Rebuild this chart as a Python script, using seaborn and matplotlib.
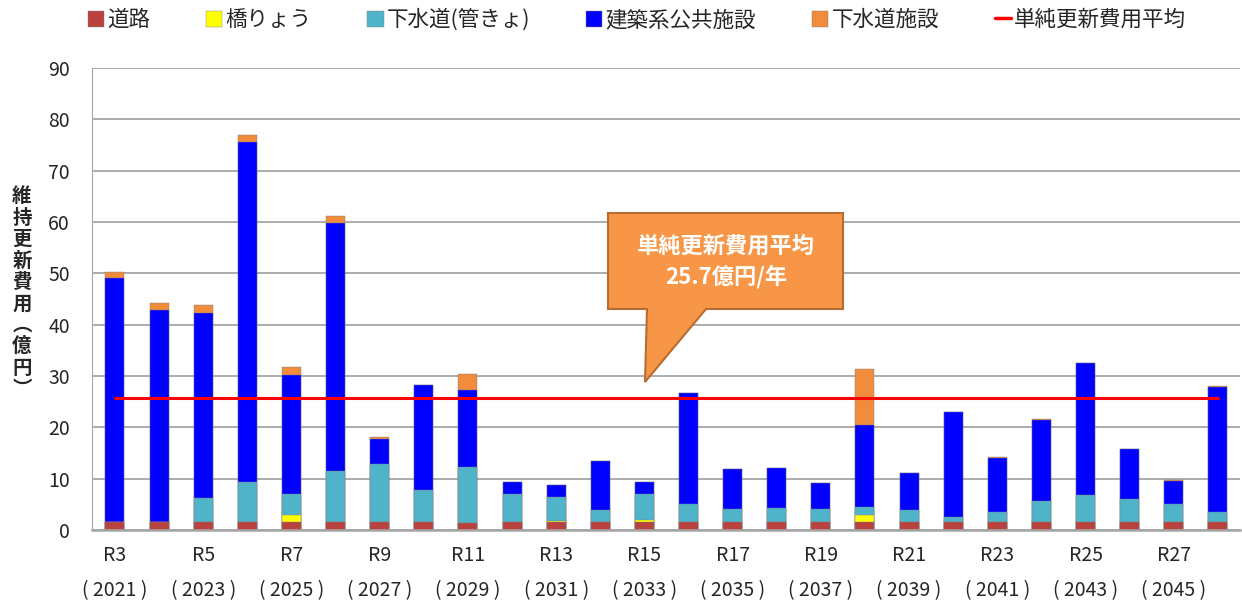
import numpy as np
import pandas as pd
import seaborn as sns
import matplotlib.pyplot as plt
from matplotlib.patches import Patch, Polygon
from matplotlib.lines import Line2D

# categories (fiscal years)
periods = ['R3', 'R4', 'R5', 'R6', 'R7', 'R8', 'R9', 'R10', 'R11', 'R12', 'R13', 'R14', 'R15',
           'R16', 'R17', 'R18', 'R19', 'R20', 'R21', 'R22', 'R23', 'R24', 'R25', 'R26', 'R27', 'R28']
years = [2021, 2022, 2023, 2024, 2025, 2026, 2027, 2028, 2029, 2030, 2031, 2032, 2033,
         2034, 2035, 2036, 2037, 2038, 2039, 2040, 2041, 2042, 2043, 2044, 2045, 2046]

# cost per category (億円)
road = [1.5, 1.5, 1.5, 1.5, 1.5, 1.5, 1.5, 1.5, 1.4, 1.5, 1.5, 1.5, 1.5,
        1.5, 1.5, 1.5, 1.5, 1.5, 1.5, 1.5, 1.5, 1.5, 1.5, 1.5, 1.5, 1.5]
bridge = [0, 0, 0, 0, 1.4, 0, 0, 0, 0, 0, 0.3, 0, 0.4,
          0, 0, 0, 0, 1.5, 0, 0, 0, 0, 0, 0, 0, 0]
sewer_pipe = [0, 0, 4.8, 7.8, 4.2, 9.9, 11.4, 6.2, 10.9, 5.5, 4.6, 2.3, 5.1,
              3.6, 2.6, 2.8, 2.6, 1.5, 2.3, 1.1, 2.1, 4.2, 5.4, 4.5, 3.6, 2.0]
building = [47.5, 41.4, 35.9, 66.3, 23.1, 48.5, 4.8, 20.6, 14.9, 2.3, 2.3, 9.7, 2.3,
            21.5, 7.7, 7.8, 5.0, 16.0, 7.3, 20.3, 10.4, 15.7, 25.6, 9.7, 4.5, 24.4]
sewer_facility = [1.2, 1.3, 1.6, 1.4, 1.6, 1.3, 0.4, 0, 3.1, 0, 0, 0, 0,
                  0, 0, 0, 0, 10.9, 0, 0, 0.3, 0.2, 0, 0, 0.1, 0.2]
average = 25.7

series_names = ['道路', '橋りょう', '下水道(管きょ)', '建築系公共施設', '下水道施設']
colors = ['#B9413E', '#FFFF00', '#4FB3CA', '#0000FF', '#F08C3C']
line_color = '#FF0000'

df = pd.DataFrame({'period': periods, '道路': road, '橋りょう': bridge,
                   '下水道(管きょ)': sewer_pipe, '建築系公共施設': building,
                   '下水道施設': sewer_facility})
cum = df[series_names].cumsum(axis=1)

sns.set_style('white')
plt.rcParams['font.family'] = ['Noto Sans CJK JP', 'DejaVu Sans']

fig = plt.figure(figsize=(12.42, 6.01), dpi=100)
ax = fig.add_axes([92 / 1242, 1 - 530 / 601, (1240 - 92) / 1242, (530 - 68) / 601])

# stacked bars: draw cumulative totals from the top layer down
for name, col in reversed(list(zip(series_names, colors))):
    sns.barplot(x=df['period'], y=cum[name], color=col, saturation=1, width=0.43,
                edgecolor='#808080', linewidth=0.3, ax=ax, order=periods)

# average line
n = len(periods)
ax.plot(np.arange(n), [average] * n, color=line_color, lw=2.2, zorder=5)

ax.set_ylim(0, 90)
ax.set_yticks(range(0, 91, 10))
ax.set_xlim(-0.52, 25.5)
ax.grid(axis='y', color='#A6A6A6', lw=1.3)
ax.set_axisbelow(True)
for s in ['top', 'right']:
    ax.spines[s].set_visible(False)
ax.spines['left'].set_color('#A6A6A6')
ax.spines['bottom'].set_color('#A6A6A6')
ax.spines['bottom'].set_linewidth(1.8)
ax.set_xlabel('')
ax.set_ylabel('')

xlabels = [f'{p}\n( {y} )' if i % 2 == 0 else '' for i, (p, y) in enumerate(zip(periods, years))]
ax.set_xticks(range(n))
ax.set_xticklabels(xlabels, fontsize=14, linespacing=1.85)
ax.set_xticks(np.arange(-0.5, n, 1), minor=True)
ax.tick_params(axis='x', which='major', length=0, pad=11)
ax.tick_params(axis='x', which='minor', length=7, color='#A6A6A6', width=1, direction='out')
ax.tick_params(axis='y', length=6, color='#A6A6A6', direction='out', labelsize=14, pad=10)

# vertical y label
fig.text(22 / 1242, 1 - 293 / 601, '\n'.join('維持更新費用︵億円︶'), ha='center', va='center',
         fontsize=14, fontweight='bold', linespacing=1.16)

# legend
handles = [Patch(facecolor=c, edgecolor='#808080', linewidth=0.3) for c in colors]
handles.append(Line2D([0], [0], color=line_color, lw=2.5))
labels = series_names + ['単純更新費用平均']
fig.legend(handles, labels, loc='center', bbox_to_anchor=(637 / 1242, 1 - 20 / 601), ncol=6,
           frameon=False, fontsize=15.5, handlelength=0.75, handleheight=0.75,
           handletextpad=0.15, columnspacing=2.6)

# callout
pts = [(608, 213), (843, 213), (843, 309), (706, 309), (645, 382), (647, 309), (608, 309)]
poly = Polygon([(x / 1242, 1 - y / 601) for x, y in pts], closed=True, facecolor='#F79646',
               edgecolor='#B66D31', lw=1.5, transform=fig.transFigure, zorder=10)
fig.patches.append(poly)
fig.text(726 / 1242, 1 - 246 / 601, '単純更新費用平均', ha='center', va='center', color='white',
         fontsize=16, fontweight='bold', zorder=11)
fig.text(726 / 1242, 1 - 277 / 601, f'{average}億円/年', ha='center', va='center', color='white',
         fontsize=16, fontweight='bold', zorder=11)

fig.savefig('out.png', dpi=100)
